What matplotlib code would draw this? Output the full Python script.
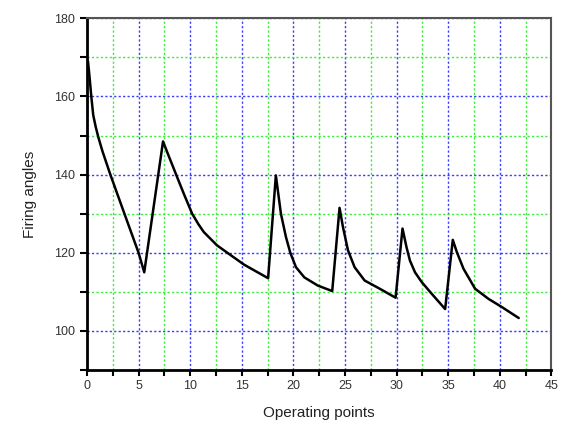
import matplotlib
matplotlib.use("Agg")
import matplotlib.pyplot as plt
from matplotlib.ticker import MultipleLocator

plt.rcParams['font.family'] = ['Liberation Sans', 'DejaVu Sans']

x_points = [0.1, 0.25, 0.42, 0.61, 0.85, 1.1, 1.5, 2.24, 3.63, 5.0, 5.55,
            7.37, 7.9, 8.4, 8.73, 9.4, 10.19, 10.8, 11.32, 12.6, 13.76, 15.2, 16.4, 17.55,
            18.3, 18.79, 19.28, 19.7, 20.25, 21.06, 22.37, 23.76,
            24.47, 24.8, 25.29, 25.93, 26.9, 28.5, 29.9,
            30.57, 30.96, 31.29, 31.78, 32.43, 33.4, 34.7,
            35.44, 35.83, 36.48, 37.6, 38.9, 40.2, 41.83]
firing_angles = [169.0, 165.0, 160.0, 155.2, 152.2, 149.6, 146.0, 140.2, 130.0, 120.0, 115.0,
                 148.5, 144.9, 141.6, 139.4, 135.0, 130.0, 127.3, 125.3, 121.9, 119.7, 117.0, 115.2, 113.5,
                 139.8, 130.0, 124.0, 120.0, 116.3, 113.7, 111.6, 110.2,
                 131.5, 126.6, 120.6, 116.3, 112.9, 110.6, 108.5,
                 126.2, 121.4, 118.0, 115.0, 112.5, 109.5, 105.6,
                 123.3, 120.2, 115.9, 110.8, 108.2, 106.1, 103.3]

fig = plt.figure(figsize=(5.61, 4.23), dpi=100)
ax = fig.add_axes([0.155, 0.1253, 0.828, 0.8314])

ax.set_xlim(0, 45)
ax.set_ylim(90, 180)
ax.xaxis.set_major_locator(MultipleLocator(5))
ax.xaxis.set_minor_locator(MultipleLocator(2.5))
ax.yaxis.set_major_locator(MultipleLocator(20))
ax.yaxis.set_minor_locator(MultipleLocator(10))

ax.grid(which='major', color='#3c3cff', linestyle=(0, (1.6, 1.6)), linewidth=1.0)
ax.grid(which='minor', color='#3cee3c', linestyle=(0, (1.6, 1.6)), linewidth=1.0)
ax.set_axisbelow(True)

ax.plot(x_points, firing_angles, color='black', linewidth=1.8, zorder=3,
        solid_joinstyle='round', solid_capstyle='round')

for s in ['left', 'bottom']:
    ax.spines[s].set_linewidth(2.0)
    ax.spines[s].set_color('black')
for s in ['top', 'right']:
    ax.spines[s].set_linewidth(1.5)
    ax.spines[s].set_color('#555555')

ax.tick_params(which='both', direction='out', length=4, width=1.5, colors='black',
               labelsize=9, labelcolor='#333333')
ax.tick_params(axis='y', which='both', length=5)

ax.set_xlabel('Operating points', fontsize=11, color='#222222', labelpad=10)
ax.set_ylabel('Firing angles', fontsize=11, color='#222222', labelpad=12)

fig.savefig('out.png', dpi=100)
